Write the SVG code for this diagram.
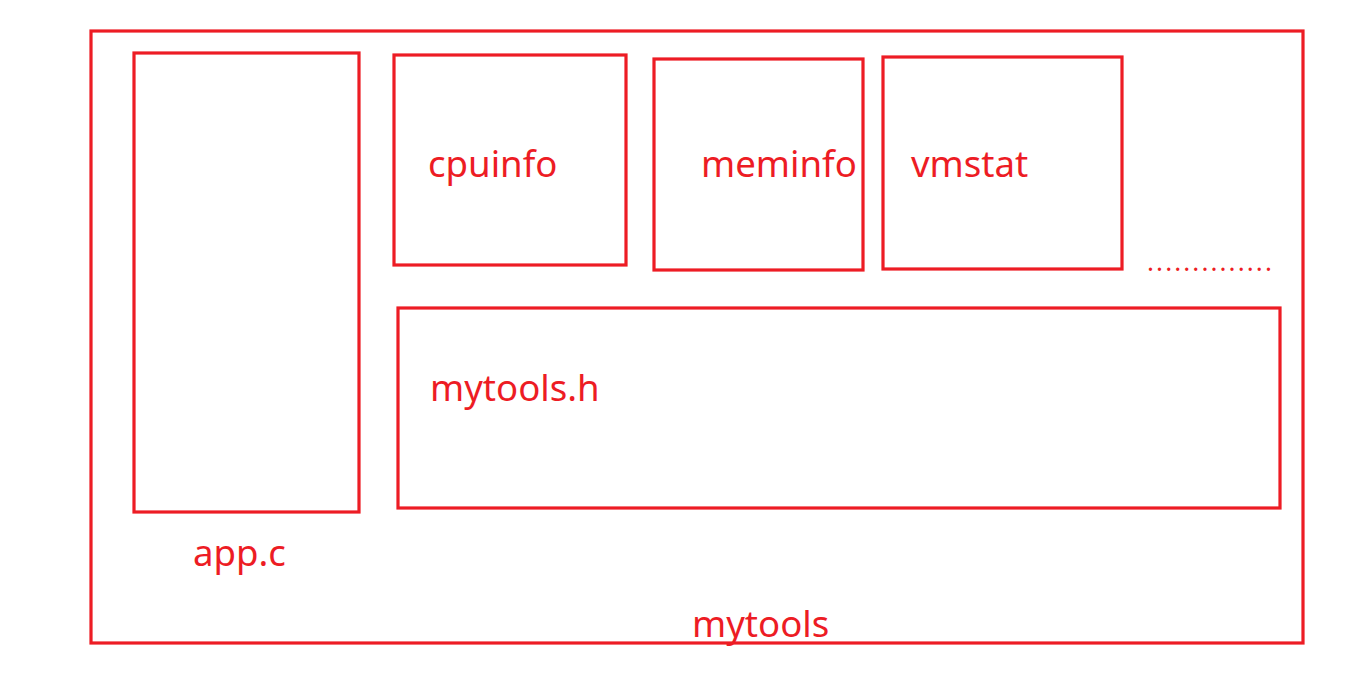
<svg xmlns="http://www.w3.org/2000/svg" width="1356" height="675" viewBox="0 0 1356 675">
<style>
.box{fill:none;stroke:#ED1C24;stroke-width:3.2}
.t{font-family:"Noto Sans","Open Sans","DejaVu Sans",sans-serif;font-size:36.6px;fill:#ED1C24}
</style>
<rect width="1356" height="675" fill="#fff"/>
<g id="mytools"><rect class="box" x="91" y="31" width="1212" height="612"/><text class="t" x="692" y="637">mytools</text></g>
<g id="app"><rect class="box" x="134" y="53" width="225" height="459"/><text class="t" x="193" y="566">app.c</text></g>
<g id="cpuinfo"><rect class="box" x="394" y="55" width="232" height="210"/><text class="t" x="428" y="177">cpuinfo</text></g>
<g id="meminfo"><rect class="box" x="654" y="59" width="209" height="211"/><text class="t" x="701" y="177">meminfo</text></g>
<g id="vmstat"><rect class="box" x="883" y="57" width="239" height="212"/><text class="t" x="911" y="177">vmstat</text></g>
<g id="mytools_h"><rect class="box" x="398" y="308" width="882" height="200"/><text class="t" x="430" y="401">mytools.h</text></g>
<g id="more"><text class="t" x="1147" y="271" style="font-size:26px;letter-spacing:2.1px">..............</text></g>
<g id="connectors"></g>
</svg>
